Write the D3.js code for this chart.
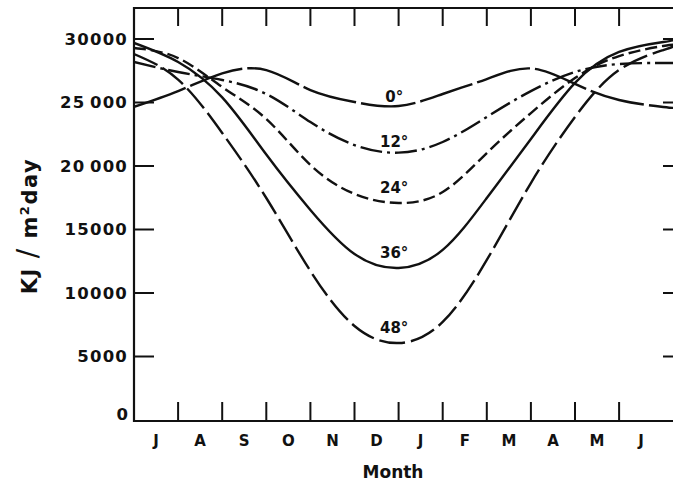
<!DOCTYPE html>
<html>
<head>
<meta charset="utf-8">
<script src="https://cdn.jsdelivr.net/npm/d3@7"></script>
<style>
  body { margin: 0; background: #fff; }
  svg { display: block; }
  text { font-family: "DejaVu Sans", sans-serif; font-weight: bold; fill: #111; }
</style>
</head>
<body>
<div id="graph"></div>
<script>
// months counted from mid June (0) to the next June
const months = [0, 1, 2, 3, 4, 5, 6, 7, 8, 9, 10, 11, 12, 12.25];
const monthLabels = ["J", "A", "S", "O", "N", "D", "J", "F", "M", "A", "M", "J"];
const yTicks = [5000, 10000, 15000, 20000, 25000, 30000];
const yTickLabels = ["5000", "10000", "15000", "20\u2009000", "25\u2009000", "30000"];
const latitudes = ["0°", "12°", "24°", "36°", "48°"];

// daily radiation, KJ/m2 day
const lat0 = [24660, 25900, 27300, 27550, 25980, 25040, 24720, 25670, 26850, 27680, 26460, 25200, 24650, 24570];
const lat12 = [28190, 27400, 26770, 25670, 23460, 21650, 21050, 21890, 23860, 25900, 27400, 28030, 28110, 28110];
const lat24 = [29290, 28500, 26220, 23700, 20080, 17800, 17090, 17950, 21020, 24170, 26930, 28660, 29450, 29530];
const lat36 = [29690, 28190, 25400, 20900, 16540, 13070, 11970, 13390, 17480, 22130, 26540, 28980, 29760, 29920];
const lat48 = [28820, 26800, 22600, 17480, 11730, 7400, 6060, 7720, 12600, 18660, 23860, 27560, 29130, 29450];

const series = [lat0, lat12, lat24, lat36, lat48];
const dashes = ["55,5", "22,5,3,5", "12,5", null, "26,6"];

const width = 673, height = 481;
const plotLeft = 134, plotTop = 8, plotBottom = 420;

const svg = d3.select("#graph").append("svg")
  .attr("width", width)
  .attr("height", height);

const x = d3.scaleLinear().domain([0, 12.5]).range([plotLeft, plotLeft + 12.5 * 44.1]);
const y = d3.scaleLinear().domain([0, 30000]).range([plotBottom, 39]);

// frame: top and left lines, bottom axis
svg.append("path")
  .attr("d", `M${width},${plotTop}H${plotLeft}V${plotBottom + 1}H${width}`)
  .attr("fill", "none")
  .attr("stroke", "#111")
  .attr("stroke-width", 2.2);

// month ticks, top and bottom
const mt = d3.range(1, 12);
svg.append("g").selectAll("line").data(mt).enter().append("line")
  .attr("x1", d => x(d)).attr("x2", d => x(d))
  .attr("y1", plotTop).attr("y2", plotTop + 18)
  .attr("stroke", "#111").attr("stroke-width", 2);
svg.append("g").selectAll("line").data(mt).enter().append("line")
  .attr("x1", d => x(d)).attr("x2", d => x(d))
  .attr("y1", plotBottom + 1).attr("y2", plotBottom - 18)
  .attr("stroke", "#111").attr("stroke-width", 2);

// y ticks, left side and the right side (axis is just off the picture)
svg.append("g").selectAll("line").data(yTicks).enter().append("line")
  .attr("x1", plotLeft).attr("x2", plotLeft + 20)
  .attr("y1", d => y(d)).attr("y2", d => y(d))
  .attr("stroke", "#111").attr("stroke-width", 2);
svg.append("g").selectAll("line").data(yTicks).enter().append("line")
  .attr("x1", 663).attr("x2", width)
  .attr("y1", d => y(d)).attr("y2", d => y(d))
  .attr("stroke", "#111").attr("stroke-width", 2);

// y tick labels
svg.append("g").selectAll("text").data(yTicks).enter().append("text")
  .attr("x", 128)
  .attr("y", d => y(d))
  .attr("dy", "0.36em")
  .attr("text-anchor", "end")
  .style("font-size", "16.5px")
  .style("letter-spacing", "1.2px")
  .text((d, i) => yTickLabels[i]);
svg.append("text")
  .attr("x", 128).attr("y", y(0) - 6).attr("dy", "0.36em")
  .attr("text-anchor", "end")
  .style("font-size", "16.5px")
  .text("0");

// month labels
svg.append("g").selectAll("text").data(monthLabels).enter().append("text")
  .attr("x", (d, i) => x(i + 0.5))
  .attr("y", 446)
  .attr("text-anchor", "middle")
  .style("font-size", "15px")
  .text(d => d);

svg.append("text")
  .attr("x", 393).attr("y", 478)
  .attr("text-anchor", "middle")
  .style("font-size", "17px")
  .text("Month");

// y title
const yt = svg.append("text")
  .attr("transform", "translate(37,226) rotate(-90)")
  .attr("text-anchor", "middle")
  .style("font-size", "21px")
  .style("letter-spacing", "1.5px");
yt.append("tspan").text("KJ ");
yt.append("tspan").style("font-weight", "normal").style("font-size", "28px").text("/");
yt.append("tspan").text(" m");
yt.append("tspan").attr("dy", "-8").style("font-size", "13px").text("2");
yt.append("tspan").attr("dy", "8").text("day");

// curves
const line = d3.line()
  .x((d, i) => x(months[i]))
  .y(d => y(d))
  .curve(d3.curveNatural);

svg.append("defs").append("clipPath").attr("id", "plot")
  .append("rect").attr("x", plotLeft).attr("y", plotTop)
  .attr("width", width - plotLeft).attr("height", plotBottom - plotTop);

svg.append("g").attr("clip-path", "url(#plot)")
  .selectAll("path").data(series).enter().append("path")
  .attr("d", d => line(d))
  .attr("fill", "none")
  .attr("stroke", "#111")
  .attr("stroke-width", 2.4)
  .attr("stroke-dasharray", (d, i) => dashes[i]);

// latitude labels above each December minimum
svg.append("g").selectAll("text").data(series).enter().append("text")
  .attr("x", x(5.9))
  .attr("y", (d, i) => y(d3.min(d)) - (i < 2 ? 11 : 15))
  .attr("dy", "0.36em")
  .attr("text-anchor", "middle")
  .style("font-size", "15px")
  .text((d, i) => latitudes[i]);
</script>
</body>
</html>
